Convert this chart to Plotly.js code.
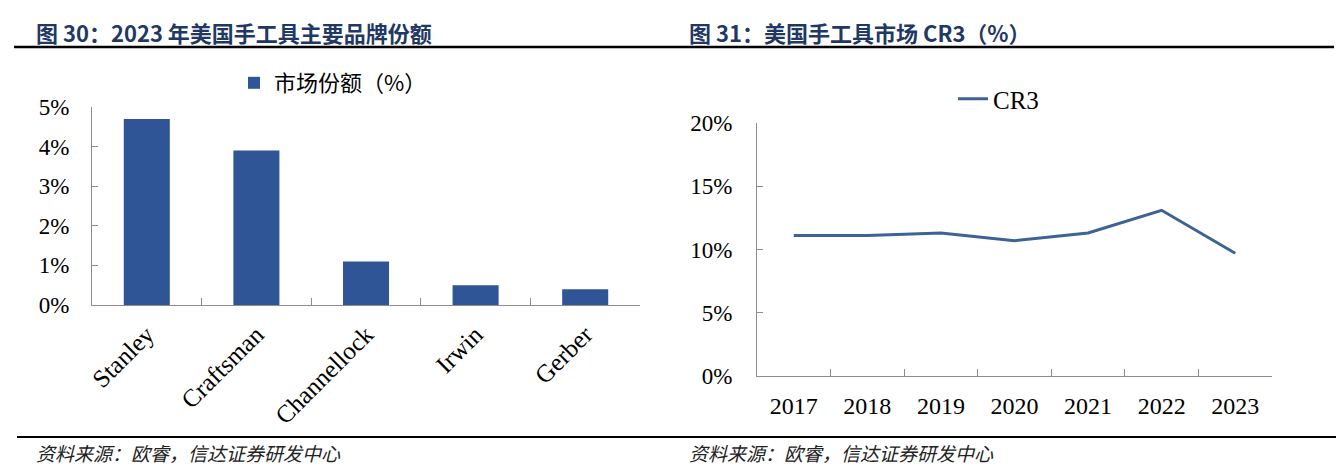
<!DOCTYPE html>
<html>
<head>
<meta charset="utf-8">
<script src="https://cdn.plot.ly/plotly-3.0.1.min.js"></script>
<style>html,body{margin:0;padding:0;background:#fff;}#chart{width:1336px;height:472px;}</style>
</head>
<body>
<div id="chart"></div>
<script>
// ---- data ----
const brands = ["Stanley", "Craftsman", "Channellock", "Irwin", "Gerber"];
const brandShare = [4.7, 3.9, 1.1, 0.5, 0.4];
const years = ["2017", "2018", "2019", "2020", "2021", "2022", "2023"];
const cr3 = [11.1, 11.1, 11.3, 10.7, 11.3, 13.1, 9.7];
const shareTicks = [0, 1, 2, 3, 4, 5];
const shareTickText = ["0%", "1%", "2%", "3%", "4%", "5%"];
const cr3Ticks = [0, 5, 10, 15, 20];
const cr3TickText = ["0%", "5%", "10%", "15%", "20%"];
const title1 = "图 30：2023 年美国手工具主要品牌份额";
const title2 = "图 31：美国手工具市场 CR3（%）";
const source = "资料来源：欧睿，信达证券研发中心";

const W = 1336, H = 472;
const px = x => x / W;
const py = y => 1 - y / H;

const serif = "Liberation Serif, Times New Roman, serif";
const cjk = "Noto Sans CJK SC, sans-serif";
const axisGray = "#8c8c8c";

const traces = [
  {
    type: "bar", x: brands, y: brandShare, name: "市场份额（%）",
    marker: {color: "#2F5597"}, width: 0.42, xaxis: "x", yaxis: "y",
    legend: "legend", hoverinfo: "x+y"
  },
  {
    type: "scatter", mode: "lines", x: years, y: cr3, name: "CR3",
    line: {color: "#3D6396", width: 3}, xaxis: "x2", yaxis: "y2",
    legend: "legend2"
  }
];

const layout = {
  width: W, height: H,
  margin: {l: 0, r: 0, t: 0, b: 0},
  paper_bgcolor: "#fff", plot_bgcolor: "#fff",
  showlegend: true,
  legend: {
    x: px(234), y: py(83), xanchor: "left", yanchor: "middle",
    orientation: "h", font: {family: cjk, size: 22, color: "#000"},
    bgcolor: "rgba(0,0,0,0)"
  },
  legend2: {
    x: px(953), y: py(99), xanchor: "left", yanchor: "middle",
    orientation: "h", font: {family: serif, size: 25, color: "#000"},
    bgcolor: "rgba(0,0,0,0)"
  },
  xaxis: {
    domain: [px(92), px(640)], anchor: "y", type: "category",
    range: [-0.5, 4.5], showgrid: false, zeroline: false,
    showline: true, linecolor: axisGray, linewidth: 1,
    ticks: "inside", tickson: "boundaries", ticklen: 7, tickcolor: axisGray,
    tickangle: -45, tickfont: {family: serif, size: 25, color: "#000"},
    ticklabelstandoff: 4
  },
  yaxis: {
    domain: [py(305), py(107)], anchor: "x", range: [0, 5],
    tickvals: shareTicks, ticktext: shareTickText,
    showgrid: false, zeroline: false,
    showline: true, linecolor: axisGray, linewidth: 1,
    ticks: "inside", ticklen: 6, tickcolor: axisGray,
    tickfont: {family: serif, size: 23, color: "#000"},
    ticklabelstandoff: 17
  },
  xaxis2: {
    domain: [px(757), px(1272)], anchor: "y2", type: "category",
    range: [-0.5, 6.5], showgrid: false, zeroline: false,
    showline: true, linecolor: axisGray, linewidth: 1,
    ticks: "inside", tickson: "boundaries", ticklen: 7, tickcolor: axisGray,
    tickfont: {family: serif, size: 24, color: "#000"},
    ticklabelstandoff: 8
  },
  yaxis2: {
    domain: [py(376), py(123)], anchor: "x2", range: [0, 20],
    tickvals: cr3Ticks, ticktext: cr3TickText,
    showgrid: false, zeroline: false,
    showline: true, linecolor: axisGray, linewidth: 1,
    ticks: "inside", ticklen: 6, tickcolor: axisGray,
    tickfont: {family: serif, size: 23, color: "#000"},
    ticklabelstandoff: 19
  },
  shapes: [
    {type: "line", xref: "paper", yref: "paper", x0: px(14), x1: px(1334), y0: py(47), y1: py(47), line: {color: "#000", width: 2.5}},
    {type: "line", xref: "paper", yref: "paper", x0: px(17), x1: px(1336), y0: py(437), y1: py(437), line: {color: "#000", width: 2}}
  ],
  annotations: [
    {text: "<b>" + title1 + "</b>", xref: "paper", yref: "paper", x: px(34), y: py(32), xanchor: "left", yanchor: "middle", showarrow: false, font: {family: cjk, size: 22, color: "#1F3864"}},
    {text: "<b>" + title2 + "</b>", xref: "paper", yref: "paper", x: px(687), y: py(32), xanchor: "left", yanchor: "middle", showarrow: false, font: {family: cjk, size: 22, color: "#1F3864"}},
    {text: "<i>" + source + "</i>", xref: "paper", yref: "paper", x: px(34), y: py(452), xanchor: "left", yanchor: "middle", showarrow: false, font: {family: cjk, size: 19, color: "#222"}},
    {text: "<i>" + source + "</i>", xref: "paper", yref: "paper", x: px(687), y: py(452), xanchor: "left", yanchor: "middle", showarrow: false, font: {family: cjk, size: 19, color: "#222"}}
  ]
};

Plotly.newPlot("chart", traces, layout, {displayModeBar: false, staticPlot: true});
</script>
</body>
</html>
